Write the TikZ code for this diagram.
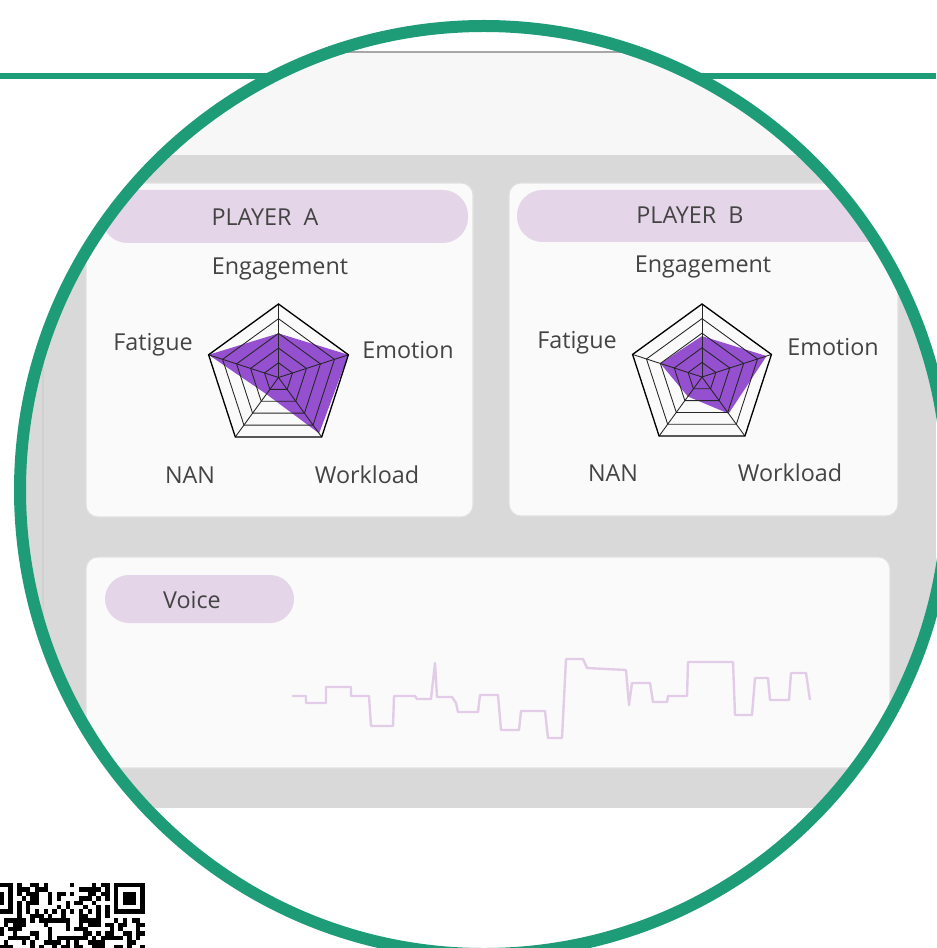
\documentclass[tikz,border=0pt]{standalone}
\usepackage{fontspec}
\setmainfont{Open Sans}
\usetikzlibrary{positioning}
\definecolor{ringG}{RGB}{30,156,120}
\definecolor{pillP}{RGB}{228,213,232}
\definecolor{panelG}{RGB}{217,217,217}
\definecolor{headG}{RGB}{247,247,247}
\definecolor{cardW}{RGB}{250,250,250}
\definecolor{radarP}{RGB}{138,62,202}
\definecolor{waveP}{RGB}{226,204,231}
\definecolor{txtG}{RGB}{68,68,68}

\begin{document}
\begin{tikzpicture}[x=0.75pt,y=-0.75pt,
  card/.style={fill=cardW, draw=black!12, line width=0.8pt, rounded corners=9pt},
  pill/.style={fill=pillP, rounded corners=#1},
  lbl/.style={font=\fontsize{17.5}{19}\selectfont, text=txtG, inner sep=1pt},
  gridline/.style={draw=black!85, line width=0.65pt},
  datafill/.style={fill=radarP, fill opacity=0.9},
  wave/.style={draw=waveP, line width=1.8pt, line join=round},
]
\useasboundingbox (0,0) rectangle (936,948);

% green rule behind the lens
\draw[ringG, line width=5.2pt] (0,76) -- (936,76);

% zoomed screenshot inside the lens
\begin{scope}
  \clip (484,490) circle[radius=464];
  \fill[white] (484,490) circle[radius=464];
  \fill[headG] (0,52) rectangle (936,155);
  \draw[black!35, line width=0.8pt] (0,52) -- (936,52);
  \fill[panelG] (0,155) rectangle (936,808);
  \draw[black!18, line width=0.8pt] (43,155) -- (43,808);

  % player cards
  \draw[card] (86,183) rectangle (473,517);
  \draw[card] (509,183) rectangle (898,516);
  \fill[pill=19pt] (102,190) rectangle (468,243);
  \fill[pill=19pt] (517,190) rectangle (893,242);
  \node[lbl] (titA) at (265,217) {PLAYER\ \ A};
  \node[lbl] (titB) at (690,215) {PLAYER\ \ B};

  % radar A
  \begin{scope}[shift={(278.5,377.5)}]
    \fill[datafill] (-90:{0.60*73.5}) -- (-18:{1.0*73.5}) -- (54:{0.94*73.5})
      -- (126:{0.28*73.5}) -- (198:{1.0*73.5}) -- cycle;
    \foreach \k in {1,...,4}
      \draw[gridline] (-90:{\k*14.7}) -- (-18:{\k*14.7}) -- (54:{\k*14.7})
        -- (126:{\k*14.7}) -- (198:{\k*14.7}) -- cycle;
    \foreach \a in {-90,-18,54,126,198}
      \draw[gridline] (0,0) -- (\a:73.5);
    \draw[black, line width=1pt] (-90:73.5) -- (-18:73.5) -- (54:73.5)
      -- (126:73.5) -- (198:73.5) -- cycle;
  \end{scope}
  \node[lbl] (engA) at (280,269) {Engagement};
  \node[lbl] (fatA) at (153,345) {Fatigue};
  \node[lbl] (emoA) at (408,350) {Emotion};
  \node[lbl] (nanA) at (190,475) {NAN};
  \node[lbl] (wrkA) at (367,475) {Workload};

  % radar B
  \begin{scope}[shift={(702,377)}]
    \fill[datafill] (-90:{0.56*73}) -- (-18:{0.93*73}) -- (54:{0.62*73})
      -- (126:{0.33*73}) -- (198:{0.6*73}) -- cycle;
    \foreach \k in {1,...,4}
      \draw[gridline] (-90:{\k*14.6}) -- (-18:{\k*14.6}) -- (54:{\k*14.6})
        -- (126:{\k*14.6}) -- (198:{\k*14.6}) -- cycle;
    \foreach \a in {-90,-18,54,126,198}
      \draw[gridline] (0,0) -- (\a:73);
    \draw[black, line width=1pt] (-90:73) -- (-18:73) -- (54:73)
      -- (126:73) -- (198:73) -- cycle;
  \end{scope}
  \node[lbl] (engB) at (703,267) {Engagement};
  \node[lbl] (fatB) at (577,343) {Fatigue};
  \node[lbl] (emoB) at (833,347) {Emotion};
  \node[lbl] (nanB) at (613,473) {NAN};
  \node[lbl] (wrkB) at (790,473) {Workload};

  % voice card
  \draw[card] (86,557) rectangle (890,768);
  \fill[pill=18pt] (105,575) rectangle (294,623);
  \node[lbl] (voice) at (192,600) {Voice};
  \draw[wave] (292,696) -- (306,696) -- (306,703) -- (326,703) -- (326,687)
    -- (351,687) -- (351,696) -- (369,696) -- (371,726) -- (393,726)
    -- (394,696) -- (415,696) -- (417,699) -- (431,699) -- (435,663)
    -- (437,697) -- (452,697) -- (456,703) -- (458,712) -- (478,712)
    -- (480,695) -- (498,695) -- (501,730) -- (519,730) -- (521,711)
    -- (545,711) -- (548,738) -- (562,738) -- (566,659) -- (583,659)
    -- (587,668) -- (626,670) -- (629,705) -- (632,683) -- (650,683)
    -- (653,702) -- (667,702) -- (668,696) -- (687,696) -- (688,662)
    -- (733,662) -- (735,715) -- (752,715) -- (755,678) -- (768,678)
    -- (770,700) -- (789,700) -- (791,673) -- (806,673) -- (810,700);
\end{scope}

% lens ring
\draw[ringG, line width=9pt] (484,490) circle[radius=464];

% qr code, cut by the page edge
\begin{scope}[shift={(-18,883)}, x=3.3pt, y=-3.3pt]
  \foreach \fx in {0,30} {
    \fill[black] (\fx,0) rectangle ++(7,7);
    \fill[white] (\fx+1,1) rectangle ++(5,5);
    \fill[black] (\fx+2,2) rectangle ++(3,3);
  }
  \pgfmathsetseed{11}
  \foreach \r in {0,...,14}
    \foreach \c in {0,...,36} {
      \pgfmathtruncatemacro\qrfree{((\c>7)||(\r>7)) && ((\c<29)||(\r>7))}
      \pgfmathtruncatemacro\qron{rnd<0.48}
      \ifnum\r=6 \pgfmathtruncatemacro\qron{mod(\c+1,2)}\fi
      \ifnum\c=6 \pgfmathtruncatemacro\qron{mod(\r+1,2)}\fi
      \ifnum\qrfree=1 \ifnum\qron=1 \fill[black] (\c,\r) rectangle ++(1,1); \fi\fi
    }
\end{scope}
\end{tikzpicture}
\end{document}
